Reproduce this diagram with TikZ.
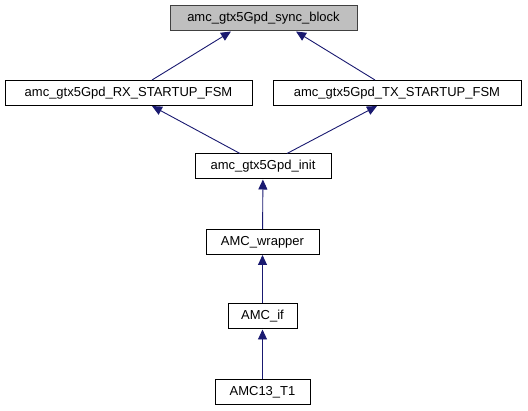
\documentclass[tikz,border=0pt]{standalone}
\usepackage{fontspec}
\setmainfont{Liberation Sans}
\usepackage{xcolor}
\usetikzlibrary{arrows.meta,positioning}
\definecolor{edgeblue}{HTML}{191970}
\definecolor{boxgrey}{HTML}{BFBFBF}

\begin{document}
\begin{tikzpicture}[x=1pt,y=-1pt,
		box/.style={draw=black,line width=1pt,fill=white,minimum height=25pt,inner sep=0pt,font=\fontsize{13}{15}\selectfont},
		rootbox/.style={box,draw={rgb,255:red,64;green,64;blue,64},fill=boxgrey},
		edge/.style={edgeblue,line width=0.9pt,-{Triangle[length=10pt,width=9pt]}}]
		\useasboundingbox (0,0) rectangle (528,411);
		\node[rootbox,minimum width=187pt] (sync) at (263.5,18.5) {amc\_gtx5Gpd\_sync\_block};
		\node[box,minimum width=247pt] (rx) at (128.5,93) {amc\_gtx5Gpd\_RX\_STARTUP\_FSM};
		\node[box,minimum width=248pt] (tx) at (397,93) {amc\_gtx5Gpd\_TX\_STARTUP\_FSM};
		\node[box,minimum width=136pt] (init) at (263,166.5) {amc\_gtx5Gpd\_init};
		\node[box,minimum width=113pt] (wrapper) at (262.5,242) {AMC\_wrapper};
		\node[box,minimum width=69pt] (amcif) at (262.5,316.5) {AMC\_if};
		\node[box,minimum width=95pt] (t1) at (262.5,392) {AMC13\_T1};
		\draw[edge] ([xshift=23.5pt]rx.north) -- ([xshift=-32.5pt]sync.south);
		\draw[edge] ([xshift=-22pt]tx.north) -- ([xshift=32.5pt]sync.south);
		\draw[edge] ([xshift=-23pt]init.north) -- ([xshift=23.5pt]rx.south);
		\draw[edge] ([xshift=24pt]init.north) -- ([xshift=-20pt]tx.south);
		\draw[edge] (wrapper) -- (init);
		\draw[edge] (amcif) -- (wrapper);
		\draw[edge] (t1) -- (amcif);
	\end{tikzpicture}
\end{document}
